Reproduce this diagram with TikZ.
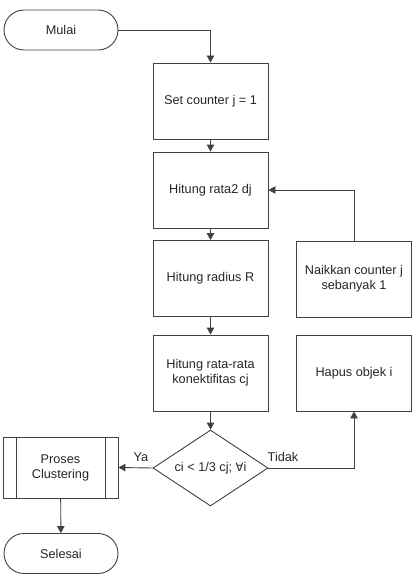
\documentclass[tikz,border=0pt]{standalone}
\usepackage{fontspec}
\setmainfont{Liberation Sans}
\newfontfamily\symfont{DejaVu Sans}
\usetikzlibrary{arrows.meta,shapes.geometric,calc}
\begin{document}
\begin{tikzpicture}[x=1pt,y=-1pt,
  every node/.style={font=\fontsize{12.7}{15}\selectfont, text=black!85},
  ln/.style={draw=black!75, line width=0.9pt},
  procbox/.style={ln, rectangle, minimum width=115pt, minimum height=76pt, inner sep=0pt, align=center},
  termbox/.style={ln, rectangle, rounded corners=20pt, minimum width=114pt, minimum height=40pt, inner sep=0pt},
  decbox/.style={ln, diamond, minimum width=115pt, minimum height=76pt, inner sep=0pt, aspect=1.5},
  subbox/.style={ln, rectangle, minimum width=115pt, minimum height=61pt, inner sep=0pt, align=center},
  conn/.style={ln, -{Triangle[width=7.5pt,length=7pt]}},
  lbl/.style={font=\fontsize{12.7}{15}\selectfont}
]
\useasboundingbox (0,0) rectangle (419,575);
\node[termbox] (mulai) at (61,30) {Mulai};
\node[procbox] (set) at (210.5,101) {Set counter j = 1};
\node[procbox] (dj) at (210.5,190) {Hitung rata2 dj};
\node[procbox] (rad) at (210.5,278.5) {Hitung radius R};
\node[procbox] (cj) at (210.5,373) {Hitung rata-rata\\konektifitas cj};
\node[procbox] (naik) at (354,279) {Naikkan counter j\\sebanyak 1};
\node[procbox] (hapus) at (354,373) {Hapus objek i};
\node[decbox] (dec) at (210.5,468) {ci < 1/3 cj; {\symfont\fontsize{11.5}{14}\selectfont ∀}i};
\node[subbox] (proses) at (60.5,467.5) {Proses\\Clustering};
\draw[ln] ($(proses.north west)+(14,0)$) coordinate (pl1) -- ($(proses.south west)+(14,0)$) coordinate (pl2);
\draw[ln] ($(proses.north east)+(-13,0)$) coordinate (pr1) -- ($(proses.south east)+(-13,0)$) coordinate (pr2);
\node[termbox] (selesai) at (61,553.5) {Selesai};

\draw[conn] (mulai.east) -| (set.north);
\draw[conn] (set) -- (dj);
\draw[conn] (dj) -- (rad);
\draw[conn] (rad) -- (cj);
\draw[conn] (cj) -- (dec);
\draw[conn] (naik.north) |- (dj.east);
\draw[conn] (dec.east) -| (hapus.south);
\draw[conn] (dec.west) -- (proses.east);
\draw[conn] (proses) -- (selesai);
\node[lbl, anchor=south] (ya) at (141,465) {Ya};
\node[lbl, anchor=south] (tidak) at (283,465) {Tidak};
\end{tikzpicture}
\end{document}
